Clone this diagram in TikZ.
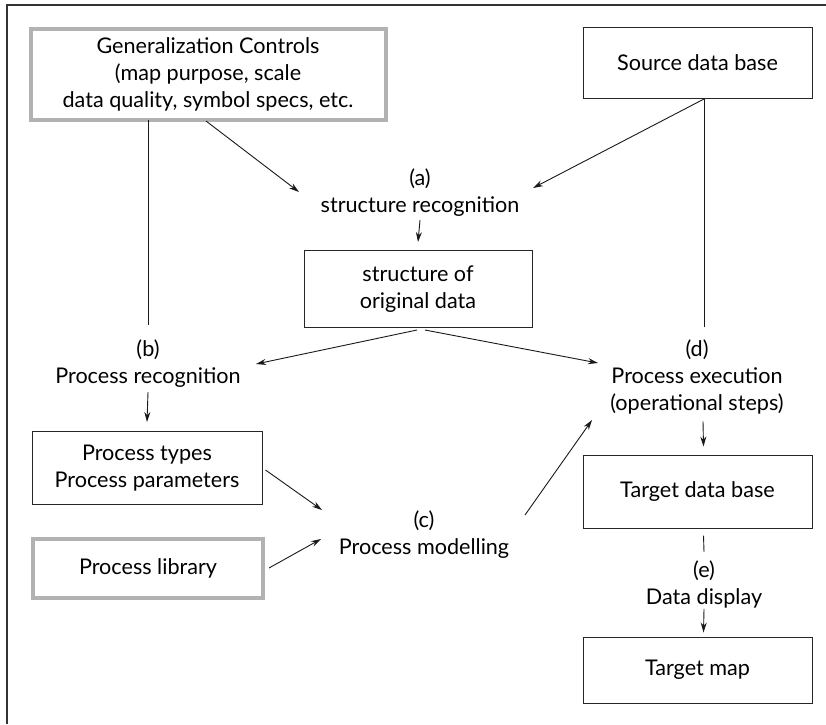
\documentclass[tikz,border=0pt]{standalone}
\usepackage{fontspec}
\setmainfont{Lato}
\usetikzlibrary{arrows.meta}
\begin{document}
\begin{tikzpicture}[x=1pt,y=-1pt,
  every node/.style={font=\fontsize{21.6}{27}\selectfont, align=center, inner sep=0pt},
  plainbox/.style={draw=black!85, line width=1pt, minimum width=#1},
  greybox/.style={draw=black!30, line width=4pt, minimum width=#1},
  conn/.style={line width=0.9pt, black!90},
  arr/.style={conn, -{Stealth[length=10pt,width=6pt]}}
]
\useasboundingbox (0,0) rectangle (826,724);
% outer frame
\draw[line width=1.1pt, black!80] (7,724) -- (7,5) -- (826,5);

% boxes
\node[greybox=355pt, minimum height=91pt] (gen) at (208,74)
  {Generalization Controls\\(map purpose, scale\\data quality, symbol specs, etc.};
\node[plainbox=229pt, minimum height=71pt] (src) at (697.5,63) {Source data base};
\node[plainbox=228pt, minimum height=77pt] (struct) at (418,289) {structure of\\original data};
\node[plainbox=230pt, minimum height=73pt] (ptypes) at (147,468) {Process types\\Process parameters};
\node[greybox=230pt, minimum height=59pt] (plib) at (148,568) {Process library};
\node[plainbox=229pt, minimum height=73pt] (tdb) at (697.5,491.5) {Target data base};
\node[plainbox=229pt, minimum height=66pt] (tmap) at (697.5,670) {Target map};

% step labels
\node (alab) at (420,193) {(a)\\structure recognition};
\node (blab) at (148,364) {(b)\\Process recognition};
\node (clab) at (424,535) {(c)\\Process modelling};
\node (dlab) at (697,377) {(d)\\Process execution\\(operational steps)};
\node (elab) at (704,584) {(e)\\Data display};

% anchor points for connectors
\coordinate (genA) at (206,121);
\coordinate (genB) at (148,120);
\coordinate (bTop) at (148,325);
\coordinate (srcA) at (704,99);
\coordinate (dTop) at (704,327);
\coordinate (aIn1) at (299,192);
\coordinate (aIn2) at (533,188);
\coordinate (sOut1) at (417,330);
\coordinate (sOut2) at (425,330);
\coordinate (bIn) at (256,364);
\coordinate (dIn1) at (598,363);
\coordinate (cIn1) at (322,510);
\coordinate (cIn2) at (321,539);
\coordinate (cOut) at (525,515);
\coordinate (dIn2) at (592,420);

% connectors (yshift is on the page: positive is upwards)
\draw[conn] (genB) -- (bTop);
\draw[arr] (genA) -- (aIn1);
\draw[conn] (srcA) -- (dTop);
\draw[arr] (srcA) -- (aIn2);
\draw[arr] ([yshift=-3pt]alab.south) -- ([yshift=8pt]struct.north);
\draw[arr] (sOut1) -- (bIn);
\draw[arr] (sOut2) -- (dIn1);
\draw[arr] ([yshift=-4pt]blab.south) -- ([yshift=9pt]ptypes.north);
\draw[arr] ([xshift=3pt]ptypes.east) ++(0,2) -- (cIn1);
\draw[arr] ([xshift=4pt]plib.east) -- (cIn2);
\draw[arr] (cOut) -- (dIn2);
\draw[arr] ([xshift=6pt,yshift=-7pt]dlab.south) -- ([xshift=6pt,yshift=8pt]tdb.north);
\draw[conn] ([xshift=6pt,yshift=-7pt]tdb.south) -- ([yshift=8pt]elab.north);
\draw[arr] ([yshift=-1pt]elab.south) -- ([xshift=6pt,yshift=4pt]tmap.north);
\end{tikzpicture}
\end{document}
